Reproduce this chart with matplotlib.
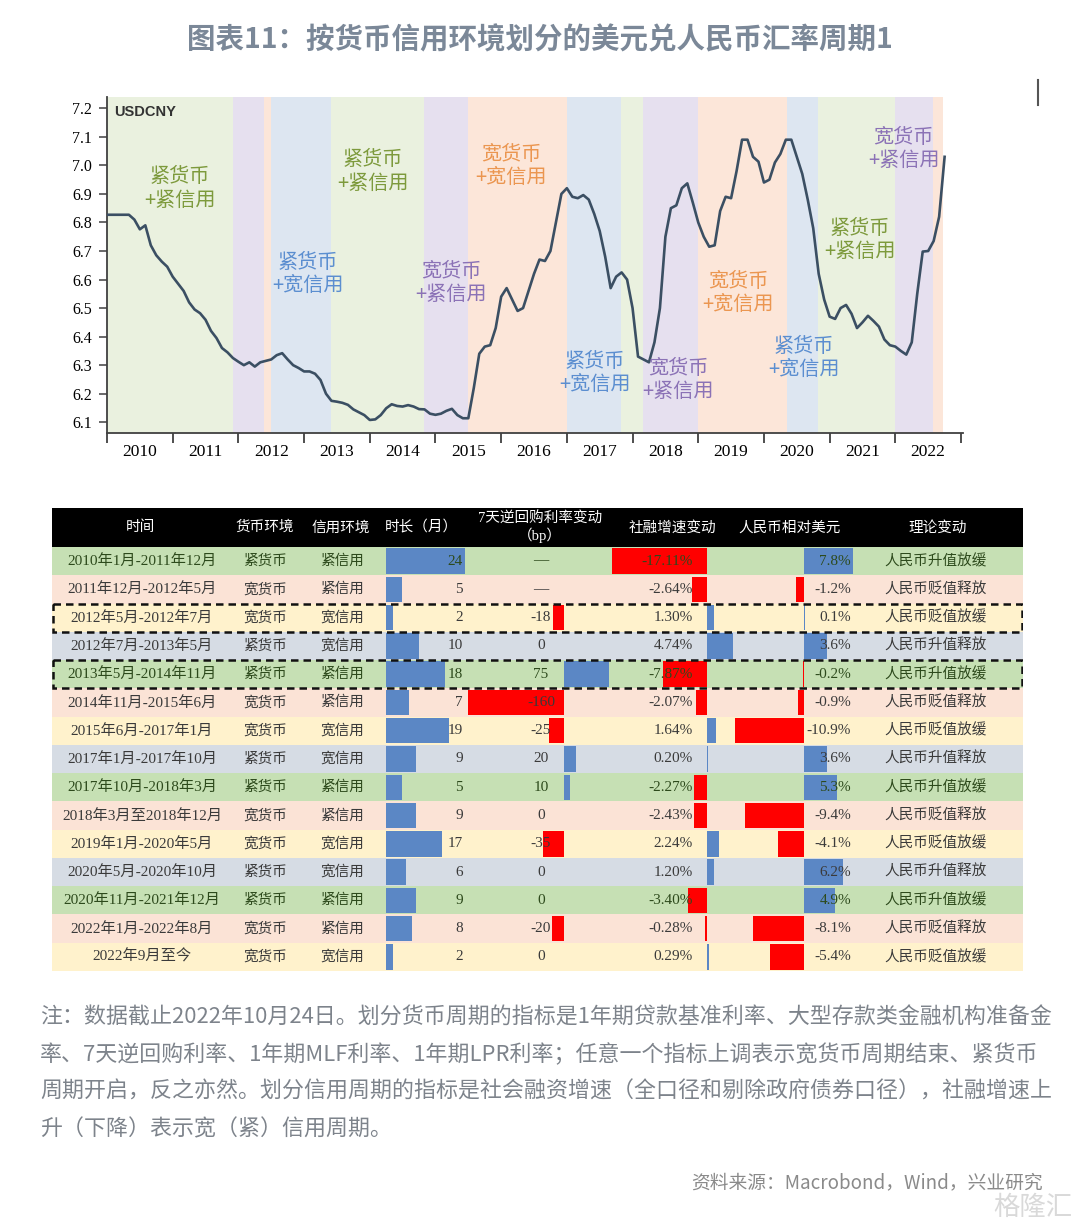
import numpy as np
import pandas as pd
import matplotlib
matplotlib.use('Agg')
import matplotlib.pyplot as plt
from matplotlib.patches import Rectangle
from matplotlib.lines import Line2D

plt.rcParams['font.family'] = ['Noto Sans CJK SC', 'DejaVu Sans']

W, H = 1080, 1229

# USDCNY, monthly, Jan 2010 - Oct 2022
cny_2010 = [6.827, 6.827, 6.827, 6.827, 6.827, 6.81, 6.776, 6.79, 6.72, 6.685, 6.663, 6.645]
cny_2011 = [6.61, 6.585, 6.56, 6.52, 6.495, 6.482, 6.459, 6.42, 6.395, 6.36, 6.345, 6.325]
cny_2012 = [6.312, 6.30, 6.31, 6.295, 6.31, 6.315, 6.32, 6.335, 6.342, 6.32, 6.30, 6.29]
cny_2013 = [6.278, 6.278, 6.27, 6.248, 6.20, 6.175, 6.172, 6.168, 6.161, 6.145, 6.135, 6.125]
cny_2014 = [6.108, 6.11, 6.125, 6.149, 6.163, 6.157, 6.155, 6.16, 6.155, 6.146, 6.145, 6.13]
cny_2015 = [6.126, 6.13, 6.14, 6.147, 6.125, 6.114, 6.114, 6.22, 6.34, 6.365, 6.37, 6.43]
cny_2016 = [6.54, 6.57, 6.53, 6.49, 6.50, 6.56, 6.62, 6.67, 6.665, 6.70, 6.80, 6.90]
cny_2017 = [6.92, 6.89, 6.885, 6.896, 6.88, 6.83, 6.77, 6.68, 6.57, 6.61, 6.625, 6.60]
cny_2018 = [6.50, 6.33, 6.32, 6.31, 6.38, 6.50, 6.75, 6.85, 6.86, 6.92, 6.937, 6.87]
cny_2019 = [6.80, 6.75, 6.715, 6.72, 6.84, 6.89, 6.885, 6.98, 7.09, 7.09, 7.03, 7.013]
cny_2020 = [6.94, 6.95, 7.01, 7.04, 7.09, 7.09, 7.03, 6.97, 6.88, 6.78, 6.62, 6.53]
cny_2021 = [6.47, 6.462, 6.50, 6.511, 6.48, 6.43, 6.45, 6.473, 6.455, 6.435, 6.39, 6.37]
cny_2022 = [6.365, 6.35, 6.337, 6.38, 6.55, 6.698, 6.70, 6.735, 6.82, 7.03]

usdcny = (cny_2010 + cny_2011 + cny_2012 + cny_2013 + cny_2014 + cny_2015 + cny_2016
          + cny_2017 + cny_2018 + cny_2019 + cny_2020 + cny_2021 + cny_2022)
dates = pd.date_range('2010-01-01', periods=len(usdcny), freq='MS')
xt = dates.year + (dates.month - 1) / 12

# regime periods shaded in the chart
band_edges = [2010.0, 2011.92, 2012.39, 2012.5, 2013.41, 2014.82, 2015.5, 2017.0, 2017.82,
              2018.16, 2019.0, 2020.35, 2020.82, 2022.0, 2022.58, 2022.73]
band_regime = ['紧紧', '宽紧', '宽宽', '紧宽', '紧紧', '宽紧', '宽宽', '紧宽', '紧紧',
               '宽紧', '宽宽', '紧宽', '紧紧', '宽紧', '宽宽']

# table
periods = ['2010年1月-2011年12月', '2011年12月-2012年5月', '2012年5月-2012年7月',
           '2012年7月-2013年5月', '2013年5月-2014年11月', '2014年11月-2015年6月',
           '2015年6月-2017年1月', '2017年1月-2017年10月', '2017年10月-2018年3月',
           '2018年3月至2018年12月', '2019年1月-2020年5月', '2020年5月-2020年10月',
           '2020年11月-2021年12月', '2022年1月-2022年8月', '2022年9月至今']
money = ['紧', '宽', '宽', '紧', '紧', '宽', '宽', '紧', '紧', '宽', '宽', '紧', '紧', '宽', '宽']
credit = ['紧', '紧', '宽', '宽', '紧', '紧', '宽', '宽', '紧', '紧', '宽', '宽', '紧', '紧', '宽']
duration = [24, 5, 2, 10, 18, 7, 19, 9, 5, 9, 17, 6, 9, 8, 2]
repo_bp = [np.nan, np.nan, -18, 0, 75, -160, -25, 20, 10, 0, -35, 0, 0, -20, 0]
tsf_chg = [-17.11, -2.64, 1.30, 4.74, -7.87, -2.07, 1.64, 0.20, -2.27, -2.43, 2.24, 1.20, -3.40, -0.28, 0.29]
cny_chg = [7.8, -1.2, 0.1, 3.6, -0.2, -0.9, -10.9, 3.6, 5.3, -9.4, -4.1, 6.2, 4.9, -8.1, -5.4]
theory = ['人民币升值放缓', '人民币贬值释放', '人民币贬值放缓', '人民币升值释放', '人民币升值放缓',
          '人民币贬值释放', '人民币贬值放缓', '人民币升值释放', '人民币升值放缓', '人民币贬值释放',
          '人民币贬值放缓', '人民币升值释放', '人民币升值放缓', '人民币贬值释放', '人民币贬值放缓']
boxed_rows = [2, 4]

# annotations: regime, x (year), y (level)
notes = [('紧紧', 2011.11, 6.919), ('紧宽', 2013.06, 6.62), ('紧紧', 2014.05, 6.979),
         ('宽紧', 2015.24, 6.588), ('宽宽', 2016.15, 6.998), ('紧宽', 2017.43, 6.273),
         ('宽紧', 2018.69, 6.248), ('宽宽', 2019.61, 6.553), ('紧宽', 2020.61, 6.325),
         ('紧紧', 2021.46, 6.739), ('宽紧', 2022.13, 7.057)]

band_colors = {'紧紧': '#eaf1df', '宽紧': '#e6e0ef', '宽宽': '#fce6d9', '紧宽': '#dde6f1'}
note_colors = {'紧紧': '#7d9a3c', '宽紧': '#8b72b6', '宽宽': '#eb9650', '紧宽': '#5b8ed0'}
row_colors = {'紧紧': '#c6e0b4', '宽紧': '#fbe3d6', '宽宽': '#fff2cc', '紧宽': '#d6dce4'}
BLUE = '#5b87c5'
RED = '#ff0000'
SERIF = ['Liberation Serif', 'Noto Sans CJK SC']


def frac(x0, y0, x1, y1):
    return [x0 / W, 1 - y1 / H, (x1 - x0) / W, (y1 - y0) / H]


fig = plt.figure(figsize=(W / 100, H / 100), dpi=100)
fig.patch.set_facecolor('white')

fig.text(540 / W, 1 - 40 / H, '图表11：按货币信用环境划分的美元兑人民币汇率周期1',
         ha='center', va='center', fontsize=20.5, fontweight='bold', color='#7b8898')
fig.add_artist(Line2D([1038 / W, 1038 / W], [1 - 80 / H, 1 - 105 / H], color='#555555', lw=1.5))

# ---- line chart
ax = fig.add_axes(frac(107, 97, 963, 433))
for i, reg in enumerate(band_regime):
    ax.axvspan(band_edges[i], band_edges[i + 1], color=band_colors[reg], lw=0, zorder=0)
ax.plot(xt, usdcny, color='#3b4f63', lw=1.9, zorder=3)
ax.set_xlim(2010, 2023.03)
ax.set_ylim(6.0623, 7.2396)

years = np.arange(2010, 2024)
ax.set_xticks(years)
ax.set_xticklabels([])
ax.set_xticks(years[:-1] + 0.5, minor=True)
ax.set_xticklabels([str(y) for y in years[:-1]], minor=True, family='Liberation Serif', fontsize=12.5)
ax.tick_params(axis='x', which='major', length=7, width=1.3, color='#404040', direction='out')
ax.tick_params(axis='x', which='minor', length=0, pad=8)
yt = np.round(np.arange(6.1, 7.21, 0.1), 1)
ax.set_yticks(yt)
ax.set_yticklabels(['%.1f' % v for v in yt], family='Liberation Serif', fontsize=11.5)
ax.tick_params(axis='y', length=6, width=1.1, color='#404040', pad=5)
for s in ['top', 'right']:
    ax.spines[s].set_visible(False)
for s in ['left', 'bottom']:
    ax.spines[s].set_color('#404040')
    ax.spines[s].set_linewidth(1.3)
ax.text(0.008, 0.975, 'USDCNY', transform=ax.transAxes, fontsize=10.5, fontweight='bold',
        family='Liberation Sans', va='top', color='#333333')
for reg, x, y in notes:
    label = reg[0] + '货币\n+' + reg[1] + '信用'
    ax.text(x, y, label, ha='center', va='center', fontsize=14.5, color=note_colors[reg],
            linespacing=1.15, zorder=4)

# ---- table
n = len(periods)
row_h = (971 - 547) / n
top = -0.5 - (547 - 508) / row_h

tab_bg = fig.add_axes(frac(52, 508, 1023, 971))
tab_bg.set_xlim(52, 1023)
tab_bg.set_ylim(n - 0.5, top)
tab_bg.axis('off')
tab_bg.set_zorder(0)
tab_bg.add_patch(Rectangle((52, top), 971, -0.5 - top, color='black', lw=0))
regimes = [m + c for m, c in zip(money, credit)]
tab_bg.barh(range(n), 971, left=52, height=1.0, color=[row_colors[r] for r in regimes], lw=0)


def bar_axes(x0, x1, lim):
    a = fig.add_axes(frac(x0, 547, x1, 971))
    a.set_xlim(*lim)
    a.set_ylim(n - 0.5, -0.5)
    a.axis('off')
    a.patch.set_alpha(0)
    a.set_zorder(1)
    return a


def bar_colors(vals):
    return [BLUE if v > 0 else RED for v in vals]


dur_ax = bar_axes(386, 465, (0, 24))
dur_ax.barh(range(n), duration, height=0.9, color=BLUE, lw=0)

repo_ax = bar_axes(465, 610, (-165, 76.7))
repo_vals = np.nan_to_num(np.array(repo_bp, dtype=float))
repo_ax.barh(range(n), repo_vals, height=0.9, color=bar_colors(repo_vals), lw=0)

tsf_ax = bar_axes(610, 805, (-17.48, 17.66))
tsf_ax.barh(range(n), tsf_chg, height=0.9, color=bar_colors(tsf_chg), lw=0)

cny_ax = bar_axes(707, 880, (-15.4, 12.06))
cny_ax.barh(range(n), cny_chg, height=0.9, color=bar_colors(cny_chg), lw=0)

tab = fig.add_axes(frac(52, 508, 1023, 971))
tab.set_xlim(52, 1023)
tab.set_ylim(n - 0.5, top)
tab.axis('off')
tab.patch.set_alpha(0)
tab.set_zorder(2)

hy = (top - 0.5) / 2
headers = [('时间', 140), ('货币环境', 265), ('信用环境', 341), ('时长（月）', 421),
           ('7天逆回购利率变动\n（bp）', 540), ('社融增速变动', 672), ('人民币相对美元', 790),
           ('理论变动', 938)]
for txt, x in headers:
    tab.text(x, hy, txt, ha='center', va='center', color='white', fontsize=10.5,
             family=SERIF, linespacing=1.1)

for i in range(n):
    c = '#2d4a1c' if regimes[i] == '紧紧' else '#3a3a3a'
    kw = dict(va='center', color=c, family=SERIF)
    tab.text(142, i, periods[i], ha='center', fontsize=11, **kw)
    tab.text(265, i, money[i] + '货币', ha='center', fontsize=10.5, **kw)
    tab.text(342, i, credit[i] + '信用', ha='center', fontsize=10.5, **kw)
    tab.text(463, i, str(duration[i]), ha='right', fontsize=11, **kw)
    r = '—' if np.isnan(repo_bp[i]) else '%d' % repo_bp[i]
    tab.text(541, i, r, ha='center', fontsize=11, **kw)
    tab.text(693, i, '%.2f%%' % tsf_chg[i], ha='right', fontsize=11, **kw)
    tab.text(851, i, '%.1f%%' % cny_chg[i], ha='right', fontsize=11, **kw)
    tab.text(936, i, theory[i], ha='center', fontsize=10.5, **kw)

for i in boxed_rows:
    tab.add_patch(Rectangle((53, i - 0.5), 969, 1.0, fill=False, ls=(0, (3, 2)), lw=1.8, ec='#111111'))

# ---- notes
note_lines = ['注：数据截止2022年10月24日。划分货币周期的指标是1年期贷款基准利率、大型存款类金融机构准备金',
              '率、7天逆回购利率、1年期MLF利率、1年期LPR利率；任意一个指标上调表示宽货币周期结束、紧货币',
              '周期开启，反之亦然。划分信用周期的指标是社会融资增速（全口径和剔除政府债券口径），社融增速上',
              '升（下降）表示宽（紧）信用周期。']
for k, line in enumerate(note_lines):
    fig.text(40 / W, 1 - (1018 + 37 * k) / H, line, fontsize=15.8, color='#7d838b', va='center')

fig.text(1043 / W, 1 - 1183 / H, '资料来源：Macrobond，Wind，兴业研究', ha='right', va='center',
         fontsize=13.5, color='#8a8a8a')
fig.text(1072 / W, 1 - 1207 / H, '格隆汇', ha='right', va='center', fontsize=19, color='#d9d9d9')

fig.savefig('out.png', dpi=100)
